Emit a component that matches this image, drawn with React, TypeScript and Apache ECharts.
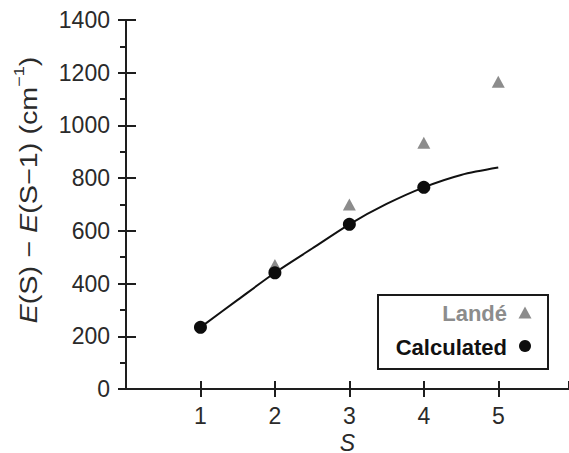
import React, { useEffect, useRef } from "react";
import * as echarts from "echarts";

const calcS = [1, 2, 3, 4];
const calcValues = [234, 441, 625, 765];
const curveS = [1, 1.5, 2, 2.5, 3, 3.5, 4, 4.5, 5];
const curveValues = [234, 338, 441, 533, 625, 702, 765, 812, 840];
const landeS = [2, 3, 4, 5];
const landeValues = [470, 700, 934, 1166];
const legendLabels = ["Landé", "Calculated"];
const yTitle = "{i|E}(S) − {i|E}(S−1) (cm{sup|−1})";
const xTitle = "S";

const FONT = "'Liberation Sans', Arial, Helvetica, sans-serif";
const AX = "#1e1e1e";
const TXT = "#2a2a2a";

export default function App() {
  const ref = useRef<HTMLDivElement>(null);
  useEffect(() => {
    if (!ref.current) return;
    const chart = echarts.init(ref.current, null, { renderer: "svg" });
    chart.setOption({
      animation: false,
      backgroundColor: "#fff",
      grid: { left: 126, right: 0, top: 20, bottom: 64, containLabel: false, outerBoundsMode: "none" },
      xAxis: [
        {
          type: "value",
          min: 0,
          max: 5.95,
          interval: 1,
          position: "bottom",
          name: xTitle,
          nameLocation: "middle",
          nameGap: 38,
          nameTextStyle: { fontFamily: FONT, fontSize: 23, fontStyle: "italic", color: TXT },
          axisLine: { show: true, onZero: false, lineStyle: { color: AX, width: 2 } },
          axisTick: { show: true, inside: false, length: 8, lineStyle: { color: AX, width: 2 } },
          axisLabel: { show: true, showMinLabel: false, showMaxLabel: false, margin: 15, fontFamily: FONT, fontSize: 23, color: TXT },
          splitLine: { show: false },
        },
        {
          type: "value",
          min: 0,
          max: 5.95,
          interval: 1,
          position: "bottom",
          axisLine: { show: false },
          axisTick: { show: true, inside: true, length: 8, lineStyle: { color: AX, width: 2 } },
          axisLabel: { show: false },
          splitLine: { show: false },
        },
        {
          type: "value",
          min: 0,
          max: 5.95,
          position: "top",
          axisLine: { show: true, lineStyle: { color: AX, width: 2 } },
          axisTick: { show: false },
          axisLabel: { show: false },
          splitLine: { show: false },
        },
      ],
      yAxis: [
        {
          type: "value",
          min: 0,
          max: 1400,
          interval: 200,
          position: "left",
          axisLine: { show: true, onZero: false, lineStyle: { color: AX, width: 2 } },
          axisTick: { show: true, inside: false, length: 8, lineStyle: { color: AX, width: 2 } },
          minorTick: { show: true, splitNumber: 2, length: 6, lineStyle: { color: AX, width: 2 } },
          axisLabel: { margin: 16, fontFamily: FONT, fontSize: 23, color: TXT, formatter: (v: number) => String(v) },
          splitLine: { show: false },
        },
        {
          type: "value",
          min: 0,
          max: 1400,
          interval: 200,
          position: "left",
          axisLine: { show: false },
          axisTick: { show: true, inside: true, length: 10, lineStyle: { color: AX, width: 2 } },
          axisLabel: { show: false },
          splitLine: { show: false },
        },
      ],
      series: [
        {
          name: "curve",
          type: "line",
          xAxisIndex: 0,
          yAxisIndex: 0,
          data: curveS.map((s, i) => [s, curveValues[i]]),
          smooth: 0.3,
          showSymbol: false,
          symbol: "none",
          lineStyle: { color: "#111", width: 2 },
          z: 2,
        },
        {
          name: legendLabels[0],
          type: "scatter",
          xAxisIndex: 0,
          yAxisIndex: 0,
          data: landeS.map((s, i) => [s, landeValues[i]]),
          symbol: "triangle",
          symbolSize: [13, 12],
          itemStyle: { color: "#8c8c8c", opacity: 1 },
          z: 3,
        },
        {
          name: legendLabels[1],
          type: "scatter",
          xAxisIndex: 0,
          yAxisIndex: 0,
          data: calcS.map((s, i) => [s, calcValues[i]]),
          symbol: "circle",
          symbolSize: 13,
          itemStyle: { color: "#0d0d0d", opacity: 1 },
          z: 4,
        },
      ],
      graphic: [
        {
          type: "text",
          x: 29,
          y: 190,
          rotation: Math.PI / 2,
          scaleX: 1.2,
          style: {
            text: yTitle,
            align: "center",
            verticalAlign: "middle",
            fontFamily: FONT,
            fontSize: 24,
            fill: TXT,
            rich: {
              i: { fontFamily: FONT, fontSize: 24, fontStyle: "italic", fill: TXT },
              sup: { fontFamily: FONT, fontSize: 15, fill: TXT, verticalAlign: "top", lineHeight: 34 },
            },
          },
          z: 10,
        },
        {
          type: "rect",
          shape: { x: 378, y: 295, width: 170, height: 74 },
          style: { fill: "#fff", stroke: "#1a1a1a", lineWidth: 2 },
          z: 10,
        },
        {
          type: "text",
          x: 507,
          y: 313,
          style: { text: legendLabels[0], align: "right", verticalAlign: "middle", fontFamily: FONT, fontSize: 22, fontWeight: "bold", fill: "#8c8c8c" },
          z: 11,
        },
        {
          type: "polygon",
          shape: { points: [[525, 306.5], [531.5, 318.5], [518.5, 318.5]] },
          style: { fill: "#8c8c8c" },
          z: 11,
        },
        {
          type: "text",
          x: 507,
          y: 347,
          style: { text: legendLabels[1], align: "right", verticalAlign: "middle", fontFamily: FONT, fontSize: 22, fontWeight: "bold", fill: "#111" },
          z: 11,
        },
        {
          type: "circle",
          shape: { cx: 525, cy: 346, r: 6 },
          style: { fill: "#0d0d0d" },
          z: 11,
        },
      ],
    });
    return () => chart.dispose();
  }, []);
  return <div ref={ref} style={{ width: 569, height: 453, position: "absolute", left: 0, top: 0 }} />;
}
